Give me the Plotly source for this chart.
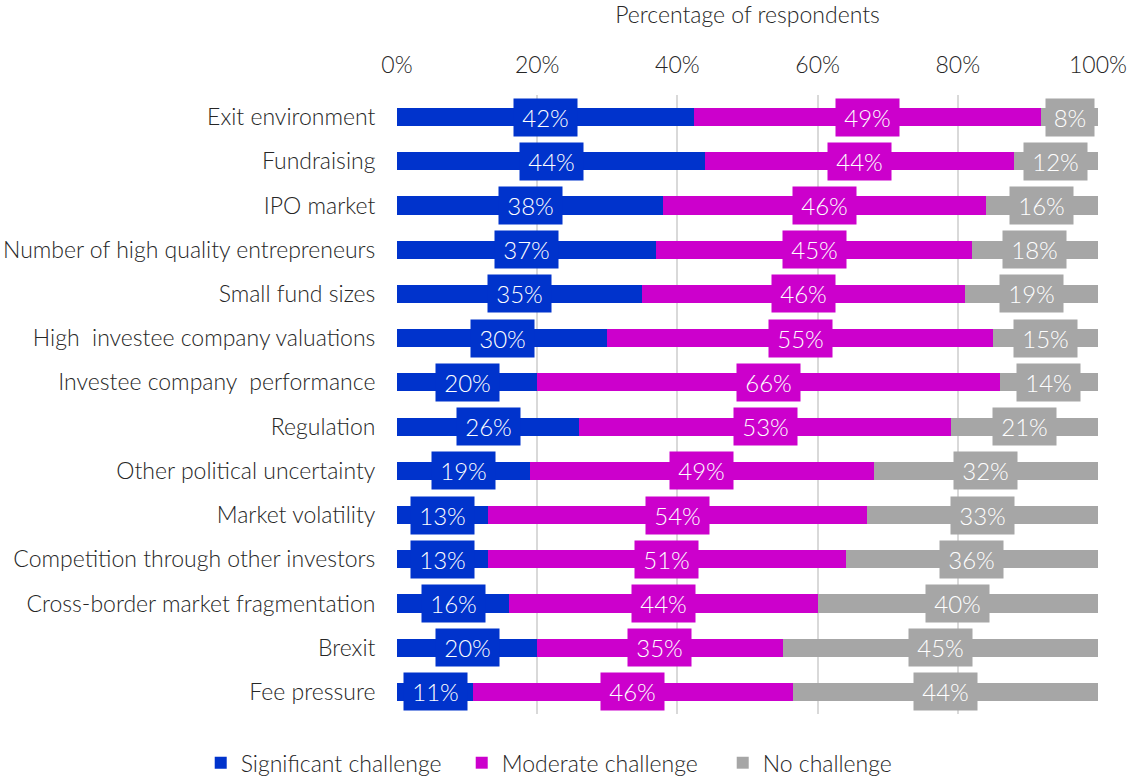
import plotly.graph_objects as go

categories = [
    "Exit environment",
    "Fundraising",
    "IPO market",
    "Number of high quality entrepreneurs",
    "Small fund sizes",
    "High  investee company valuations",
    "Investee company  performance",
    "Regulation",
    "Other political uncertainty",
    "Market volatility",
    "Competition through other investors",
    "Cross-border market fragmentation",
    "Brexit",
    "Fee pressure",
]
significant = [42, 44, 38, 37, 35, 30, 20, 26, 19, 13, 13, 16, 20, 11]
moderate = [49, 44, 46, 45, 46, 55, 66, 53, 49, 54, 51, 44, 35, 46]
no_challenge = [8, 12, 16, 18, 19, 15, 14, 21, 32, 33, 36, 40, 45, 44]

series = [
    ("Significant challenge", significant, "#0033CC"),
    ("Moderate challenge", moderate, "#CC00CC"),
    ("No challenge", no_challenge, "#A6A6A6"),
]

FONT = "Lato"
TEXT = "#262626"
SIZE = 23


def tfont(size=SIZE, color=TEXT):
    return dict(family=FONT, size=size, color=color, weight=300)


fig = go.Figure()
for name, vals, color in series:
    fig.add_trace(go.Bar(
        y=categories, x=vals, name=name, orientation="h",
        marker=dict(color=color, line=dict(width=0)),
        hoverinfo="skip",
    ))

# value boxes centred on each normalised segment
annotations = []
for i, cat in enumerate(categories):
    total = significant[i] + moderate[i] + no_challenge[i]
    start = 0.0
    for name, vals, color in series:
        share = vals[i] / total * 100
        label = f"{vals[i]}%"
        annotations.append(dict(
            x=start + share / 2, y=cat, xref="x", yref="y",
            text=label, showarrow=False,
            font=tfont(24, "#FFFFFF"),
            bgcolor=color, width=59 if len(label) > 2 else 44,
            height=33, borderpad=2,
            align="center", valign="middle",
        ))
        start += share

fig.update_layout(
    barmode="stack",
    barnorm="percent",
    bargap=0.59,
    width=1132, height=780,
    margin=dict(l=397, r=34, t=95, b=66, autoexpand=False),
    paper_bgcolor="white",
    plot_bgcolor="white",
    font=tfont(),
    annotations=annotations,
    showlegend=True,
    legend=dict(
        orientation="h", x=-0.28, xanchor="left", y=-0.044, yanchor="top",
        font=tfont(),
        traceorder="normal",
        itemsizing="constant", tracegroupgap=0,
        entrywidth=216, entrywidthmode="pixels",
        borderwidth=0,
    ),
    xaxis=dict(
        side="top", range=[0, 100], dtick=20, ticksuffix="%",
        showgrid=True, gridcolor="#D9D9D9", gridwidth=1.5,
        zeroline=False, showline=False, automargin=False,
        ticks="outside", ticklen=12, tickcolor="rgba(0,0,0,0)",
        tickfont=tfont(),
        title=dict(text="Percentage of respondents", standoff=26,
                   font=tfont()),
        fixedrange=True,
    ),
    yaxis=dict(
        categoryorder="array", categoryarray=categories,
        autorange="reversed",
        showgrid=False, zeroline=False, showline=False, automargin=False,
        ticks="outside", ticklen=16, tickcolor="rgba(0,0,0,0)",
        tickfont=tfont(),
        fixedrange=True,
    ),
)

fig.write_html("out.html")
